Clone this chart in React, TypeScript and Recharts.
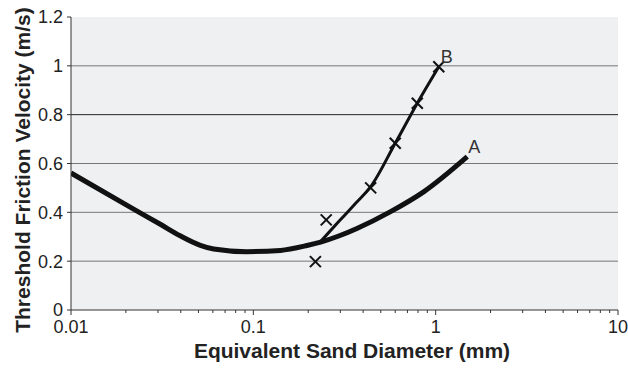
import React from 'react';
import { ComposedChart, Line, Scatter, XAxis, YAxis, CartesianGrid, ReferenceLine, ReferenceDot, Label } from 'recharts';

// curve A (fitted threshold curve)
const curveA = [
  { x: 0.01, y: 0.561 },
  { x: 0.0211, y: 0.421 },
  { x: 0.0309, y: 0.351 },
  { x: 0.0397, y: 0.304 },
  { x: 0.0512, y: 0.265 },
  { x: 0.0606, y: 0.25 },
  { x: 0.0923, y: 0.239 },
  { x: 0.1407, y: 0.244 },
  { x: 0.197, y: 0.264 },
  { x: 0.234, y: 0.278 },
  { x: 0.294, y: 0.303 },
  { x: 0.37, y: 0.334 },
  { x: 0.566, y: 0.403 },
  { x: 0.863, y: 0.485 },
  { x: 1.49, y: 0.628 },
];

// curve B
const curveB = [
  { x: 0.233, y: 0.279 },
  { x: 0.294, y: 0.362 },
  { x: 0.363, y: 0.436 },
  { x: 0.44, y: 0.505 },
  { x: 0.6, y: 0.683 },
  { x: 0.793, y: 0.847 },
  { x: 1.04, y: 0.996 },
];

// measured points (crosses)
const measured = [
  { x: 0.219, y: 0.198 },
  { x: 0.251, y: 0.369 },
  { x: 0.44, y: 0.5 },
  { x: 0.6, y: 0.683 },
  { x: 0.793, y: 0.847 },
  { x: 1.04, y: 0.996 },
];

const majorTicks = [0.01, 0.1, 1, 10];
const xTicks = [
  0.01, 0.02, 0.03, 0.04, 0.05, 0.06, 0.07, 0.08, 0.09,
  0.1, 0.2, 0.3, 0.4, 0.5, 0.6, 0.7, 0.8, 0.9,
  1, 2, 3, 4, 5, 6, 7, 8, 9, 10,
];
const yTicks = [0, 0.2, 0.4, 0.6, 0.8, 1, 1.2];
const gridValues = [0.2, 0.4, 0.6, 0.8, 1];

const FONT = '"Liberation Sans", Arial, sans-serif';

const XTick = (props: any) => {
  const { x, y, payload } = props;
  const v = payload.value;
  const major = majorTicks.some((m) => Math.abs(m - v) < 1e-9);
  return (
    <g>
      <line x1={x} x2={x} y1={y} y2={y + (major ? 5 : 3)} stroke="#333" strokeWidth={1} />
      {major && (
        <text x={x} y={y + 23} textAnchor="middle" fontSize={18} fill="#222" fontFamily={FONT}>
          {String(v)}
        </text>
      )}
    </g>
  );
};

const Cross = (props: any) => {
  const { cx, cy } = props;
  const s = 5.5;
  return (
    <g stroke="#111" strokeWidth={2}>
      <line x1={cx - s} y1={cy - s} x2={cx + s} y2={cy + s} />
      <line x1={cx - s} y1={cy + s} x2={cx + s} y2={cy - s} />
    </g>
  );
};

const YTitle = () => (
  <text
    x={30}
    y={170}
    transform="rotate(-90, 30, 170)"
    textAnchor="middle"
    fontSize={21}
    fontWeight="bold"
    fill="#222"
    fontFamily={FONT}
  >
    Threshold Friction Velocity (m/s)
  </text>
);

const XTitle = () => (
  <text x={352} y={358} textAnchor="middle" fontSize={21} fontWeight="bold" fill="#222" fontFamily={FONT}>
    Equivalent Sand Diameter (mm)
  </text>
);

export default function App() {
  return (
    <div style={{ position: 'absolute', left: 0, top: 0, width: 628, height: 369, background: '#fff' }}>
      <ComposedChart width={628} height={369} margin={{ top: 17, right: 10, bottom: 0, left: 0 }}>
        <CartesianGrid horizontal={false} vertical={false} fill="#eff0f2" />
        <XAxis
          type="number"
          dataKey="x"
          scale="log"
          domain={[0.01, 10]}
          allowDataOverflow
          ticks={xTicks}
          interval={0}
          tick={<XTick />}
          tickLine={false}
          tickSize={0}
          tickMargin={0}
          axisLine={{ stroke: '#333' }}
          height={59}
        >
          <Label content={<XTitle />} />
        </XAxis>
        <YAxis
          type="number"
          dataKey="y"
          domain={[0, 1.2]}
          ticks={yTicks}
          interval={0}
          width={71}
          tickSize={4}
          tickMargin={4}
          tick={{ fontSize: 18, fill: '#222', fontFamily: FONT }}
          tickLine={{ stroke: '#333' }}
          axisLine={{ stroke: '#333' }}
        >
          <Label content={<YTitle />} />
        </YAxis>
        {gridValues.map((v) => (
          <ReferenceLine key={v} y={v} stroke={v === 0.8 ? '#222' : '#777'} strokeWidth={1} />
        ))}
        <Line
          data={curveA}
          dataKey="y"
          type="monotone"
          stroke="#111"
          strokeWidth={5}
          dot={false}
          isAnimationActive={false}
        />
        <Line
          data={curveB}
          dataKey="y"
          type="monotone"
          stroke="#111"
          strokeWidth={3}
          dot={false}
          isAnimationActive={false}
        />
        <Scatter data={measured} shape={<Cross />} isAnimationActive={false} />
        <ReferenceDot
          x={1.49}
          y={0.628}
          r={0}
          fill="none"
          stroke="none"
          label={{ value: 'A', position: 'insideBottomLeft', dx: -4, dy: 1, fontSize: 18, fill: '#333', fontFamily: FONT }}
        />
        <ReferenceDot
          x={1.04}
          y={0.996}
          r={0}
          fill="none"
          stroke="none"
          label={{ value: 'B', position: 'insideBottomLeft', dx: -3, dy: 1, fontSize: 18, fill: '#333', fontFamily: FONT }}
        />
      </ComposedChart>
    </div>
  );
}
